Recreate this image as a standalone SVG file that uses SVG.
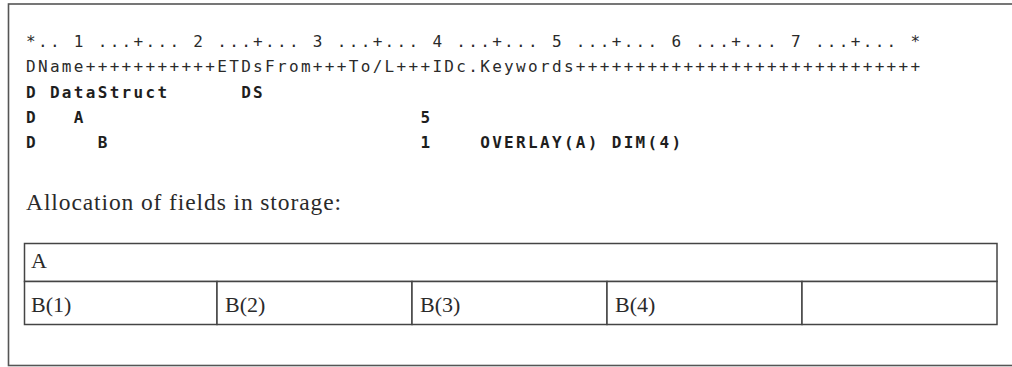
<svg xmlns="http://www.w3.org/2000/svg" width="1012" height="367" viewBox="0 0 1012 367">
<style>
.mono{font-family:"DejaVu Sans Mono","Liberation Mono",monospace;font-size:16px;letter-spacing:2.32px;fill:#2a2a2a;white-space:pre}
.b{font-weight:bold;fill:#1e1e1e}
.serif{font-family:"Liberation Serif","DejaVu Serif",serif;font-size:22px;fill:#2a2a2a}
.cap{font-size:23.5px}
.frame{fill:none;stroke:#555;stroke-width:1.6}
.cell{fill:#fff;stroke:#444;stroke-width:1.5}
</style>
<rect id="frame" class="frame" x="8.5" y="4" width="1012" height="361.5"/>
<g id="code">
<text class="mono" x="26" y="47" xml:space="preserve">*.. 1 ...+... 2 ...+... 3 ...+... 4 ...+... 5 ...+... 6 ...+... 7 ...+... *</text>
<text class="mono" x="26" y="72" xml:space="preserve">DName+++++++++++ETDsFrom+++To/L+++IDc.Keywords+++++++++++++++++++++++++++++</text>
<text class="mono b" x="26" y="98" xml:space="preserve">D DataStruct      DS</text>
<text class="mono b" x="26" y="123" xml:space="preserve">D   A                            5</text>
<text class="mono b" x="26" y="148" xml:space="preserve">D     B                          1    OVERLAY(A) DIM(4)</text>
</g>
<text id="caption" class="serif cap" x="26" y="210" textLength="315" lengthAdjust="spacing">Allocation of fields in storage:</text>
<g id="table">
<g id="cellA"><rect class="cell" x="24.5" y="243.5" width="972.5" height="38"/><text class="serif" x="31" y="268">A</text></g>
<g id="cellB1"><rect class="cell" x="24.5" y="281.5" width="192.5" height="43"/><text class="serif" x="31" y="312">B(1)</text></g>
<g id="cellB2"><rect class="cell" x="217" y="281.5" width="195" height="43"/><text class="serif" x="225" y="312">B(2)</text></g>
<g id="cellB3"><rect class="cell" x="412" y="281.5" width="195" height="43"/><text class="serif" x="420" y="312">B(3)</text></g>
<g id="cellB4"><rect class="cell" x="607" y="281.5" width="195" height="43"/><text class="serif" x="615" y="312">B(4)</text></g>
<g id="cellEmpty"><rect class="cell" x="802" y="281.5" width="195" height="43"/></g>
</g>
</svg>
